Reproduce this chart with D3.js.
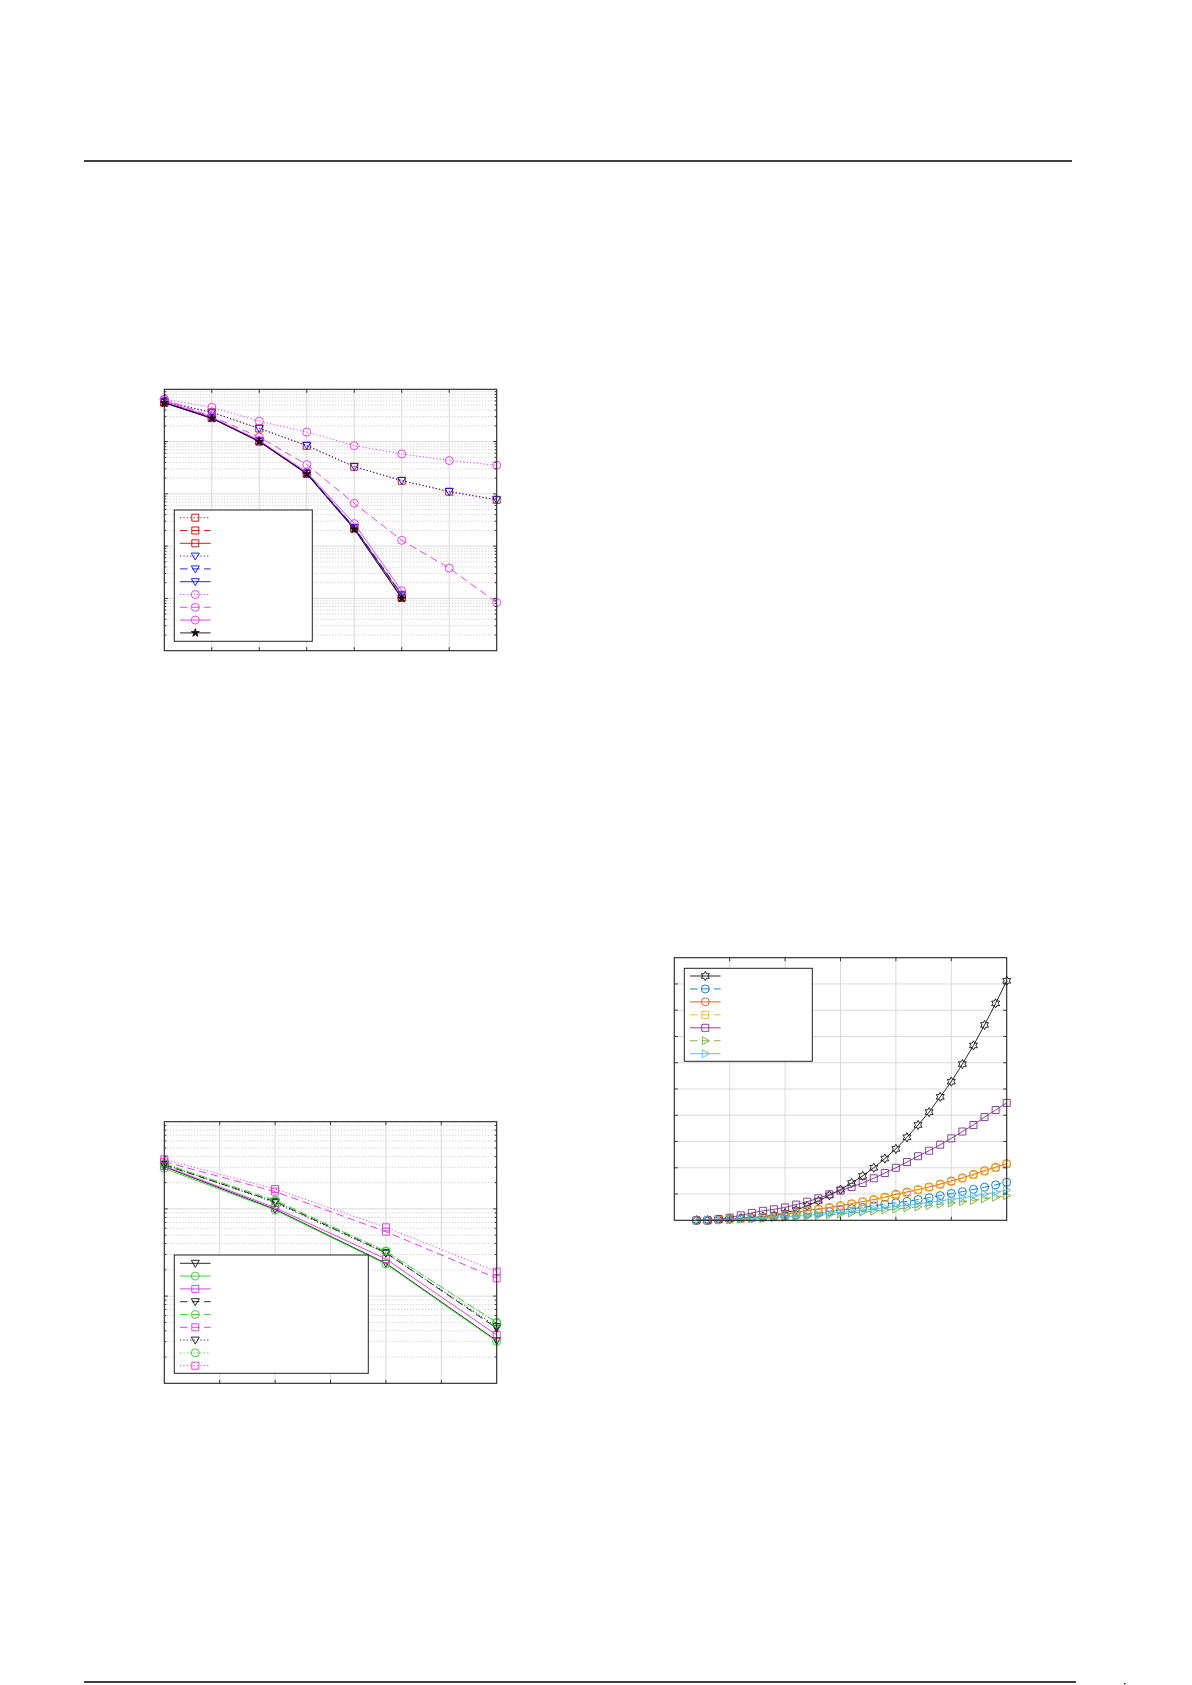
<!DOCTYPE html>
<html><head><meta charset="utf-8">
<script src="https://cdn.jsdelivr.net/npm/d3@7"></script>
<style>body{margin:0;background:#fff}svg{display:block}</style>
</head><body>
<script>
// ================= DATA =================
// Chart A (top-left, log y)
const aX = [0,1,2,3,4,5,6,7];
const aRedDotted  = [0.58,0.36,0.178,0.083,0.033,0.0178,0.011,0.0077];
const aRedDashed  = [0.56,0.283,0.102,0.0245,0.0022,0.000104];
const aRedSolid   = [0.557,0.281,0.1,0.0243,0.00218,0.000103];
const aBlueDotted = [0.582,0.365,0.179,0.0847,0.0333,0.018,0.0111,0.0077];
const aBlueDashed = [0.56,0.285,0.103,0.025,0.0023,0.00012];
const aBlueSolid  = [0.56,0.283,0.102,0.0247,0.00225,0.000115];
const aMagDotted  = [0.646,0.455,0.246,0.152,0.0836,0.058,0.0434,0.0353];
const aMagDashed  = [0.646,0.302,0.122,0.0363,0.0066,0.00129,0.00038,0.0000832];
const aMagSolid   = [0.6,0.29,0.105,0.026,0.0027,0.00014];
const aBlackStar  = [0.55,0.278,0.1,0.024,0.0021,0.0001];

// Chart B (bottom-left, log y)
const bX = [0,2,4,6];
const bBlackSolid  = [0.305,0.0989,0.0238,0.00309];
const bGreenSolid  = [0.292,0.097,0.0233,0.00303];
const bMagSolid    = [0.31,0.103,0.0267,0.00358];
const bBlackDashed = [0.319,0.121,0.0315,0.00428];
const bGreenDashed = [0.327,0.126,0.0324,0.00501];
const bMagDashed   = [0.348,0.158,0.0548,0.016];
const bBlackDotted = [0.324,0.118,0.031,0.00447];
const bGreenDotted = [0.333,0.123,0.0329,0.00488];
const bMagDotted   = [0.37,0.169,0.0615,0.0191];

// Chart C (right, linear y)
const cX = d3.range(2,31);
const cBlack  = [0,0,0.03,0.04,0.08,0.1,0.14,0.19,0.28,0.39,0.55,0.74,0.95,1.17,1.42,1.69,2.0,2.35,2.72,3.16,3.63,4.12,4.70,5.28,5.95,6.66,7.44,8.26,9.12];
const cBlue   = [0,0.01,0.03,0.05,0.07,0.09,0.11,0.14,0.17,0.2,0.24,0.28,0.33,0.39,0.44,0.49,0.55,0.61,0.67,0.72,0.79,0.86,0.94,1.02,1.09,1.18,1.26,1.35,1.45];
const cOrange = [0,0,0.02,0.04,0.06,0.09,0.12,0.18,0.23,0.29,0.38,0.43,0.49,0.56,0.63,0.71,0.79,0.88,0.99,1.08,1.17,1.27,1.38,1.5,1.62,1.75,1.89,2.02,2.16];
const cYellow = [0,0,0.02,0.03,0.05,0.08,0.11,0.16,0.21,0.27,0.35,0.41,0.47,0.54,0.61,0.69,0.77,0.86,0.96,1.05,1.15,1.25,1.36,1.47,1.59,1.72,1.86,2.0,2.14];
const cPurple = [0,0,0.05,0.1,0.19,0.28,0.36,0.42,0.49,0.6,0.71,0.84,0.99,1.13,1.27,1.42,1.6,1.8,2.0,2.22,2.44,2.65,2.88,3.12,3.38,3.63,3.93,4.2,4.47];
const cGreen  = [0,0.01,0.02,0.03,0.04,0.06,0.07,0.09,0.11,0.13,0.15,0.18,0.21,0.24,0.28,0.31,0.35,0.39,0.43,0.47,0.51,0.56,0.61,0.66,0.71,0.76,0.82,0.88,0.94];
const cCyan   = [0,0.01,0.02,0.04,0.05,0.07,0.09,0.11,0.13,0.16,0.19,0.22,0.26,0.3,0.34,0.38,0.43,0.48,0.53,0.57,0.62,0.68,0.74,0.8,0.86,0.93,1.0,1.07,1.15];

// ================= DRAWING =================
const W = 1192, H = 1685;
const svg = d3.select("body").append("svg").attr("width", W).attr("height", H);

svg.append("line").attr("x1",84).attr("x2",1072).attr("y1",161).attr("y2",161)
  .attr("stroke","#000").attr("stroke-width",1.4);
svg.append("line").attr("x1",84).attr("x2",1076).attr("y1",1682).attr("y2",1682)
  .attr("stroke","#000").attr("stroke-width",1.4);
svg.append("rect").attr("x",1124).attr("y",1683).attr("width",1.5).attr("height",1.5).attr("fill","#133");

const DASH = {solid:null, dashed:"7.5,4.5", dotted:"1.2,2.2"};

function markerPath(type){
  if(type==="square") return "M-3.5,-3.5H3.5V3.5H-3.5Z";
  if(type==="circle") return d3.symbol(d3.symbolCircle, Math.PI*16)();
  if(type==="tridown") return "M-4,-3L4,-3L0,4Z";
  if(type==="triright") return "M-3,-4L4,0L-3,4Z";
  if(type==="star") return d3.symbol(d3.symbolStar, 20)();
  if(type==="hexagram"){
    const pts=[];
    for(let i=0;i<12;i++){const r=i%2?2.6:4.6;const a=-Math.PI/2+i*Math.PI/6;pts.push([r*Math.cos(a),r*Math.sin(a)]);}
    return "M"+pts.map(p=>p.join(",")).join("L")+"Z";
  }
}

function drawFrame(g, box, x, y, xTicks, yMajor, yMinor){
  const gg = g.append("g");
  (yMinor||[]).forEach(v=>{
    gg.append("line").attr("x1",box.l).attr("x2",box.r).attr("y1",y(v)).attr("y2",y(v))
      .attr("stroke","#b5b5b5").attr("stroke-width",0.8).attr("stroke-dasharray","1,2");
  });
  yMajor.forEach(v=>{
    gg.append("line").attr("x1",box.l).attr("x2",box.r).attr("y1",y(v)).attr("y2",y(v))
      .attr("stroke","#dadada").attr("stroke-width",1);
  });
  xTicks.forEach(v=>{
    gg.append("line").attr("x1",x(v)).attr("x2",x(v)).attr("y1",box.t).attr("y2",box.b)
      .attr("stroke","#dadada").attr("stroke-width",1);
  });
}
function drawAxesBox(g, box, x, y, xTicks, yMajor, yMinor){
  const tg = g.append("g").attr("stroke","#222").attr("stroke-width",0.9);
  xTicks.forEach(v=>{
    tg.append("line").attr("x1",x(v)).attr("x2",x(v)).attr("y1",box.b).attr("y2",box.b-3.5);
    tg.append("line").attr("x1",x(v)).attr("x2",x(v)).attr("y1",box.t).attr("y2",box.t+3.5);
  });
  yMajor.forEach(v=>{
    tg.append("line").attr("x1",box.l).attr("x2",box.l+3.5).attr("y1",y(v)).attr("y2",y(v));
    tg.append("line").attr("x1",box.r).attr("x2",box.r-3.5).attr("y1",y(v)).attr("y2",y(v));
  });
  (yMinor||[]).forEach(v=>{
    tg.append("line").attr("x1",box.l).attr("x2",box.l+2).attr("y1",y(v)).attr("y2",y(v));
    tg.append("line").attr("x1",box.r).attr("x2",box.r-2).attr("y1",y(v)).attr("y2",y(v));
  });
  g.append("rect").attr("x",box.l).attr("y",box.t).attr("width",box.r-box.l).attr("height",box.b-box.t)
    .attr("fill","none").attr("stroke","#222").attr("stroke-width",1.1);
}
function drawSeries(g, x, y, xs, s){
  const pts = s.values.map((v,i)=>[xs[i], v]);
  const line = d3.line().x(d=>x(d[0])).y(d=>y(d[1]));
  g.append("path").attr("d", line(pts)).attr("fill","none").attr("stroke",s.color)
    .attr("stroke-width",s.lw||0.9).attr("stroke-dasharray",DASH[s.dash]);
  const mp = markerPath(s.marker);
  g.selectAll(null).data(pts).enter().append("path").attr("d",mp)
    .attr("transform",d=>`translate(${x(d[0])},${y(d[1])})`)
    .attr("fill", s.fill || "none").attr("stroke", s.color).attr("stroke-width",0.9);
}
function drawLegend(g, L, series){
  g.append("rect").attr("x",L.x).attr("y",L.y).attr("width",L.w).attr("height",L.h)
    .attr("fill","#fff").attr("stroke","#222").attr("stroke-width",1);
  series.forEach((s,i)=>{
    const yy = L.row0 + i*L.gap;
    g.append("line").attr("x1",L.x+5.7).attr("x2",L.x+36.3).attr("y1",yy).attr("y2",yy)
      .attr("stroke",s.color).attr("stroke-width",s.lw||0.9).attr("stroke-dasharray",DASH[s.dash]);
    g.append("path").attr("d",markerPath(s.marker)).attr("transform",`translate(${L.x+21},${yy})`)
      .attr("fill", s.fill||"none").attr("stroke",s.color).attr("stroke-width",0.9);
  });
}
function logMinors(lo, hi){
  const out=[];
  for(let e=lo;e<hi;e++) for(let k=2;k<=9;k++) out.push(k*Math.pow(10,e));
  return out;
}

// ---------- Chart A ----------
{
  const box = {l:164.3, r:496.7, t:389.3, b:650.7};
  const x = d3.scaleLinear().domain([0,7]).range([box.l, box.r]);
  const y = d3.scaleLog().domain([1e-5,1]).range([box.b, box.t]);
  const g = svg.append("g");
  const yMajor = [1e-4,1e-3,1e-2,1e-1];
  const yMinor = logMinors(-5,0);
  const xT = [1,2,3,4,5,6];
  drawFrame(g, box, x, y, xT, yMajor, yMinor);
  const RED="#cc0000", BLUE="#1010d8", MAG="#e832e8";
  const series = [
    {values:aRedDotted, color:RED, dash:"dotted", marker:"square"},
    {values:aRedDashed, color:RED, dash:"dashed", marker:"square"},
    {values:aRedSolid, color:RED, dash:"solid", marker:"square"},
    {values:aBlueDotted, color:BLUE, dash:"dotted", marker:"tridown"},
    {values:aBlueDashed, color:BLUE, dash:"dashed", marker:"tridown"},
    {values:aBlueSolid, color:BLUE, dash:"solid", marker:"tridown"},
    {values:aMagDotted, color:MAG, dash:"dotted", marker:"circle"},
    {values:aMagDashed, color:MAG, dash:"dashed", marker:"circle"},
    {values:aMagSolid, color:MAG, dash:"solid", marker:"circle"},
    {values:aBlackStar, color:"#111", dash:"solid", marker:"star", fill:"#111"}
  ];
  const pg = g.append("g");
  series.forEach(s=>drawSeries(pg, x, y, aX, s));
  drawAxesBox(g, box, x, y, xT, yMajor, yMinor);
  drawLegend(g, {x:174.3, y:510, w:138, h:131.3, row0:517.7, gap:12.8}, series);
}

// ---------- Chart B ----------
{
  const box = {l:164.3, r:496.7, t:1121.7, b:1383.3};
  const x = d3.scaleLinear().domain([0,6]).range([box.l, box.r]);
  const y = d3.scaleLog().domain([1e-3,1]).range([box.b, box.t]);
  const g = svg.append("g");
  const yMajor = [1e-2,1e-1];
  const yMinor = logMinors(-3,0);
  const xT = [1,2,3,4,5];
  drawFrame(g, box, x, y, xT, yMajor, yMinor);
  const GRN="#2ecc2e", MAG="#e030e0", BLK="#111";
  const series = [
    {values:bBlackSolid, color:BLK, dash:"solid", marker:"tridown"},
    {values:bGreenSolid, color:GRN, dash:"solid", marker:"circle"},
    {values:bMagSolid, color:MAG, dash:"solid", marker:"square"},
    {values:bBlackDashed, color:BLK, dash:"dashed", marker:"tridown"},
    {values:bGreenDashed, color:GRN, dash:"dashed", marker:"circle"},
    {values:bMagDashed, color:MAG, dash:"dashed", marker:"square"},
    {values:bBlackDotted, color:BLK, dash:"dotted", marker:"tridown"},
    {values:bGreenDotted, color:GRN, dash:"dotted", marker:"circle"},
    {values:bMagDotted, color:MAG, dash:"dotted", marker:"square"}
  ];
  const pg = g.append("g");
  series.forEach(s=>drawSeries(pg, x, y, bX, s));
  drawAxesBox(g, box, x, y, xT, yMajor, yMinor);
  drawLegend(g, {x:174.3, y:1255, w:194, h:118.3, row0:1263.3, gap:12.8}, series);
}

// ---------- Chart C ----------
{
  const box = {l:674.3, r:1006.7, t:957.7, b:1220.3};
  const x = d3.scaleLinear().domain([0,30]).range([box.l, box.r]);
  const y = d3.scaleLinear().domain([0,10]).range([box.b, box.t]);
  const g = svg.append("g");
  const yMajor = d3.range(1,10);
  const xT = [5,10,15,20,25];
  drawFrame(g, box, x, y, xT, yMajor, null);
  const series = [
    {values:cBlack, color:"#111", dash:"solid", marker:"hexagram"},
    {values:cBlue, color:"#0072BD", dash:"dashed", marker:"circle"},
    {values:cOrange, color:"#D95319", dash:"solid", marker:"circle"},
    {values:cYellow, color:"#EDB120", dash:"dashed", marker:"square"},
    {values:cPurple, color:"#7E2F8E", dash:"solid", marker:"square"},
    {values:cGreen, color:"#77AC30", dash:"dashed", marker:"triright"},
    {values:cCyan, color:"#4DBEEE", dash:"solid", marker:"triright"}
  ];
  const pg = g.append("g");
  series.forEach(s=>drawSeries(pg, x, y, cX, s));
  drawAxesBox(g, box, x, y, xT, yMajor, null);
  drawLegend(g, {x:684.3, y:968.3, w:128, h:93, row0:976, gap:12.95}, series);
}
</script>
</body></html>
